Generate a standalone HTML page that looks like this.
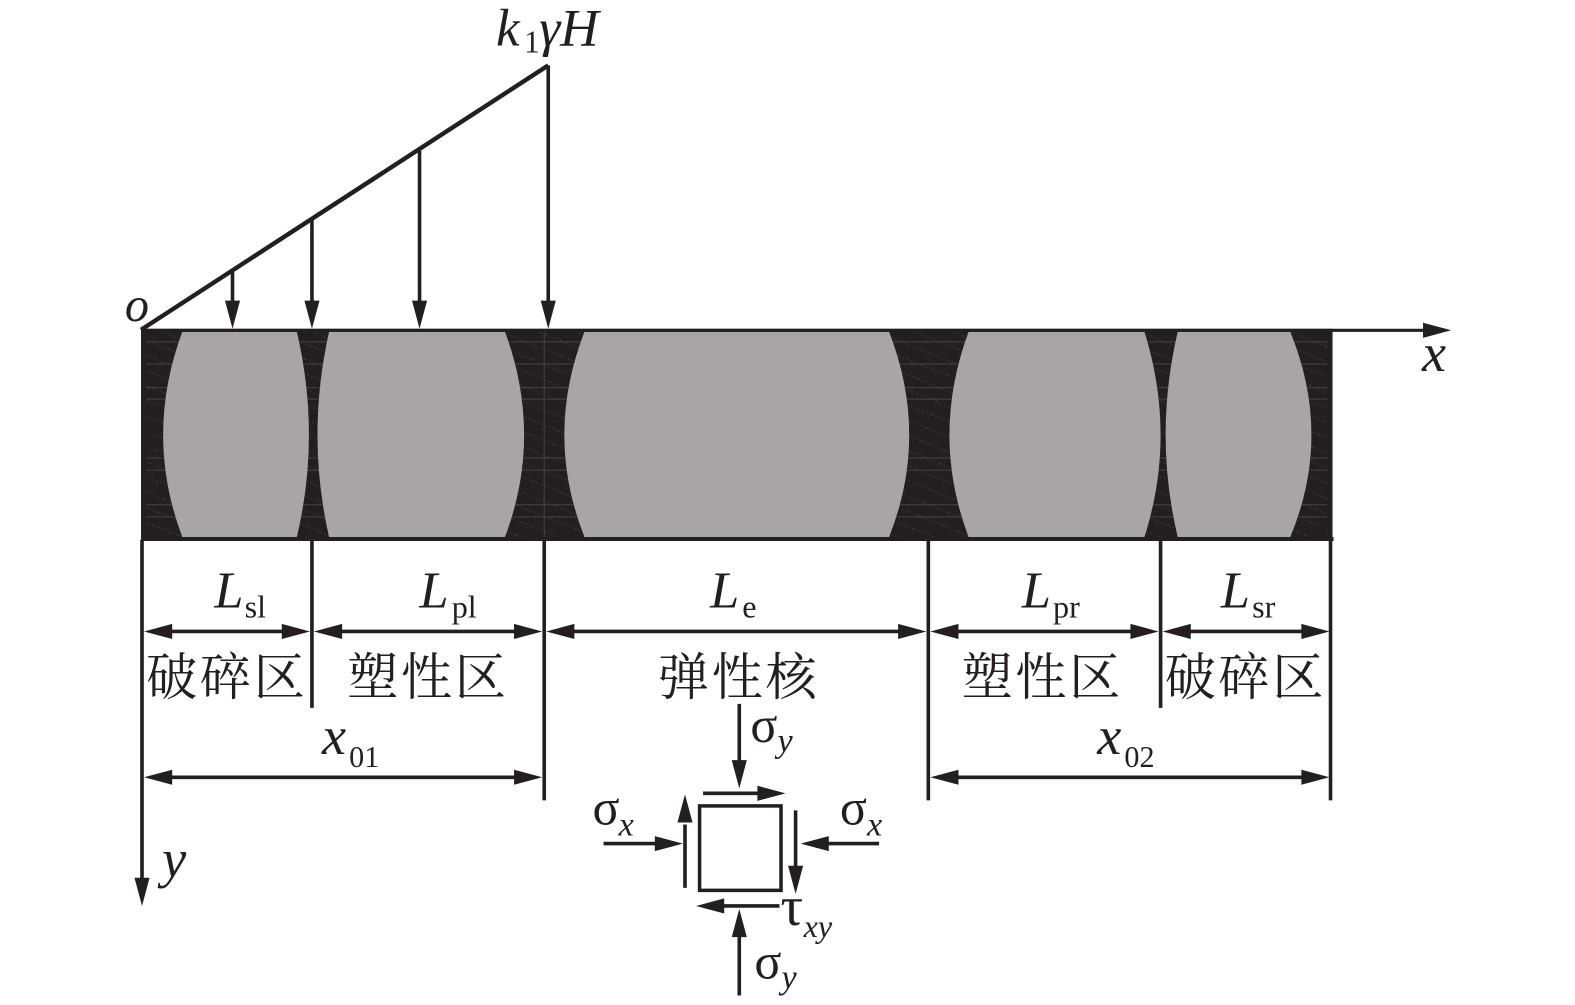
<!DOCTYPE html>
<html><head><meta charset="utf-8"><style>
html,body{margin:0;padding:0;background:#fff}
svg{display:block}
text{fill:#231f20;font-family:"Liberation Serif","Noto Serif CJK SC",serif}
.i{font-style:italic}
.c{font-family:"Liberation Serif","Noto Serif CJK SC",serif;font-size:51px}
</style></head><body>
<svg width="1575" height="1005" viewBox="0.8 0 1566.3 999.5" xmlns="http://www.w3.org/2000/svg">
<defs><pattern id="h" width="26" height="14" patternUnits="userSpaceOnUse" patternTransform="rotate(22)"><path d="M0 7H26" stroke="#3a3839" stroke-width="1" stroke-dasharray="2 2"/></pattern></defs>
<rect x="141" y="327" width="1185" height="209" fill="#231f20"/>
<rect x="146" y="330" width="1175" height="204" fill="url(#h)"/>
<g stroke="#454344" stroke-width="1">
<path d="M146 340H1321M146 362H1321M146 385.500H1321M146 397H1321M146 455.500H1321M146 467.500H1321M146 502H1321M146 514H1321M542 330V534"/>
</g>
<g fill="#a7a5a6">
<path d="M182 330 Q144 433 182 534 L296 534 Q320 433 296 330Z"/>
<path d="M328 330 Q305 433 328 534 L503 534 Q541 433 503 330Z"/>
<path d="M582 330 Q542 433 582 534 L885 534 Q925 433 885 330Z"/>
<path d="M964 330 Q926 433 964 534 L1139 534 Q1171 433 1139 330Z"/>
<path d="M1172 330 Q1148 433 1172 534 L1284 534 Q1326 433 1284 330Z"/>
</g>
<g stroke="#231f20" stroke-width="3.600" fill="none">
<path d="M141 328.500 H1420" stroke-width="3.200"/><path d="M141 536 H1327" stroke-width="4"/>
<path d="M141 328 L546 65" stroke-width="4.400"/>
<path d="M546 65 V300M418 150 V300M311 217 V300M232 270 V300"/>
<path d="M142 537 V875M311 537 V704M542 537 V796M924 537 V796M1155 537 V704M1324 537 V796"/>
<path d="M160 628 H295M330 628 H525M560 628 H905M942 628 H1138M1172 628 H1308"/>
<path d="M160 773 H525M942 773 H1308"/>
<path d="M736 700 V760M736 990 V930M601 839 H655M875 839 H820"/>
<path d="M700 789 H760M682 883 V820M792 806 V862M776 901 H715"/>
<rect x="696.500" y="801.500" width="81" height="84" stroke-width="3.500"/>
</g>
<g fill="#231f20">
<path d="M232 327l-7.500-28h15zM311 327l-7.500-28h15zM418 327l-7.500-28h15zM546 327l-7.500-28h15z"/>
<path d="M1444 328.500l-28-7.500v15z"/>
<path d="M142 901l-7.500-28h15z"/>
<path d="M144 628l28-7.500v15zM309 628l-28-7.500v15zM313 628l28-7.500v15zM540 628l-28-7.500v15zM544 628l28-7.500v15zM922 628l-28-7.500v15zM926 628l28-7.500v15zM1153 628l-28-7.500v15zM1157 628l28-7.500v15zM1323 628l-28-7.500v15z"/>
<path d="M144 773l28-7.500v15zM540 773l-28-7.500v15zM926 773l28-7.500v15zM1323 773l-28-7.500v15z"/>
<path d="M736 784l-7.500-28h15zM736 904l-7.500 28h15zM680 839l-28-7.500v15zM797 839l28-7.500v15z"/>
<path d="M782 789l-28-7.500v15zM682 790l-7.500 28h15zM792 889l-7.500-28h15zM693 901l28-7.500v15z"/>
</g>
<text x="494" y="45" font-size="53" class="i">k</text><text x="522" y="52" font-size="31">1</text><text x="537" y="45" font-size="53" class="i">γH</text>
<text x="125" y="319" font-size="48" class="i">o</text>
<text x="1415" y="369" font-size="54" class="i">x</text>
<text x="162" y="872" font-size="54" class="i">y</text>
<text x="214" y="604" font-size="52" class="i">L</text><text x="244" y="614" font-size="32">sl</text>
<text x="418" y="604" font-size="52" class="i">L</text><text x="450" y="614" font-size="32">pl</text>
<text x="707" y="604" font-size="52" class="i">L</text><text x="739" y="614" font-size="32">e</text>
<text x="1017" y="604" font-size="52" class="i">L</text><text x="1048" y="614" font-size="32">pr</text>
<text x="1215" y="604" font-size="52" class="i">L</text><text x="1246" y="614" font-size="32">sr</text>
<text class="c" x="146" y="691" textLength="158">破碎区</text>
<text class="c" x="346" y="691" textLength="158">塑性区</text>
<text class="c" x="655" y="691" textLength="158">弹性核</text>
<text class="c" x="957" y="691" textLength="158">塑性区</text>
<text class="c" x="1159" y="691" textLength="158">破碎区</text>
<text x="321" y="750" font-size="54" class="i">x</text><text x="348" y="763" font-size="30">01</text>
<text x="1092" y="750" font-size="54" class="i">x</text><text x="1119" y="763" font-size="30">02</text>
<text x="747" y="738" font-size="50">σ</text><text x="774" y="748" font-size="34" class="i">y</text>
<text x="590" y="820" font-size="50">σ</text><text x="616" y="831" font-size="34" class="i">x</text>
<text x="836" y="820" font-size="50">σ</text><text x="863" y="831" font-size="34" class="i">x</text>
<text x="777" y="920" font-size="56">τ</text><text x="800" y="932" font-size="32" class="i">xy</text>
<text x="751" y="973" font-size="50">σ</text><text x="778" y="983" font-size="34" class="i">y</text>
</svg>
</body></html>
